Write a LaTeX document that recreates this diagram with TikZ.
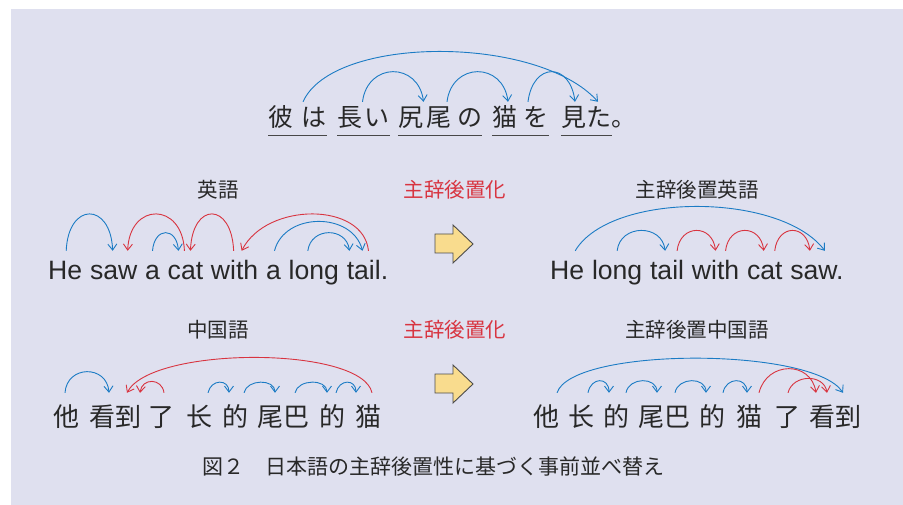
\documentclass[tikz,border=0pt]{standalone}
\usepackage{fontspec}
\setmainfont{Liberation Sans}
\newfontfamily\jp{Noto Sans CJK JP}
\usetikzlibrary{arrows.meta,calc}
\definecolor{panel}{RGB}{223,224,239}
\definecolor{ink}{RGB}{40,40,40}
\definecolor{arcblue}{RGB}{27,123,196}
\definecolor{arcred}{RGB}{216,52,64}
\definecolor{arrowfill}{RGB}{249,220,142}
\begin{document}
\begin{tikzpicture}[x=1pt,y=-1pt,
  jtop/.style={inner sep=0pt, anchor=base, text height=24.5pt, text depth=8.5pt, font=\jp\fontsize{25}{25}\selectfont, text=ink},
  enw/.style={inner sep=0pt, anchor=base west, text height=29pt, text depth=7pt, font=\fontsize{26.6}{26.6}\selectfont, text=ink},
  zhw/.style={inner sep=0pt, anchor=base, text height=33pt, text depth=3pt, font=\jp\fontsize{26}{26}\selectfont, text=ink},
  lbl/.style={inner sep=0pt, anchor=base, font=\jp\fontsize{20.5}{20.5}\selectfont, text=ink},
  redlbl/.style={lbl, text=arcred},
  ba/.style={draw=arcblue, line width=0.9pt, -{Straight Barb[length=6pt,width=9pt]}},
  ra/.style={ba, draw=arcred},
  uline/.style={draw=ink!85, line width=1.3pt},
  shiftarrow/.style={fill=arrowfill, draw=black!70, line width=0.9pt, line join=miter}
]
\useasboundingbox (0,0) rectangle (903,505);
\fill[white] (0,0) rectangle (903,505);
\fill[panel] (11,9) rectangle (903,505);

% ---------- top Japanese sentence ----------
\node[jtop] (j1) at (281,126.5) {彼};
\node[jtop] (j2) at (314,126.5) {は};
\node[jtop] (j3) at (350,126.5) {長};
\node[jtop] (j4) at (377,126.5) {い};
\node[jtop] (j5) at (410.5,126.5) {尻};
\node[jtop] (j6) at (438.5,126.5) {尾};
\node[jtop] (j7) at (469.5,126.5) {の};
\node[jtop] (j8) at (505,126.5) {猫};
\node[jtop] (j9) at (536,126.5) {を};
\node[jtop] (j10) at (573.5,126.5) {見};
\node[jtop] (j11) at (599,126.5) {た};
\node[jtop, anchor=base west] (j12) at (j11.base east) {。};

\draw[uline] (j1.south west) -- (j2.south east);
\draw[uline] (j3.south west) -- (j4.south east);
\draw[uline] (j5.south west) -- (j7.south east);
\draw[uline] (j8.south west) -- (j9.south east);
\draw[uline] (j10.south west) -- (j11.south east);

\draw[ba] ([xshift=-11pt]j2.north) .. controls +(30,-67) and +(-60,-67) .. ([xshift=-1pt]j11.north);
\draw[ba] ([xshift=12.5pt]j3.north) .. controls +(5,-40) and +(-5,-40) .. ([xshift=-15pt]j6.north);
\draw[ba] ([xshift=8.5pt]j6.north) .. controls +(5,-40) and +(-5,-40) .. ([xshift=3pt]j8.north);
\draw[ba] ([xshift=-8pt]j9.north) .. controls +(5,-40) and +(-5,-40) .. ([xshift=1.5pt]j10.north);

% ---------- labels ----------
\node[lbl] (l1) at (218,197.5) {英語};
\node[redlbl] (l2) at (455,197.5) {主辞後置化};
\node[lbl] (l3) at (697,197.5) {主辞後置英語};
\node[lbl] (l4) at (218,337.5) {中国語};
\node[redlbl] (l5) at (455,337.5) {主辞後置化};
\node[lbl] (l6) at (697,337.5) {主辞後置中国語};

% ---------- shift arrows ----------
\draw[shiftarrow] (435,234) -- (453,234) -- (453,225) -- (473,244) -- (453,263) -- (453,253) -- (435,253) -- cycle;
\draw[shiftarrow] (435,374) -- (453,374) -- (453,365) -- (473,384) -- (453,403) -- (453,393) -- (435,393) -- cycle;

% ---------- English ----------
\node[enw] (e1) at (48,280) {He};
\node[enw] (e2) at ([xshift=7.4pt]e1.base east) {saw};
\node[enw] (e3) at ([xshift=7.4pt]e2.base east) {a};
\node[enw] (e4) at ([xshift=7.4pt]e3.base east) {cat};
\node[enw] (e5) at ([xshift=7.4pt]e4.base east) {with};
\node[enw] (e6) at ([xshift=7.4pt]e5.base east) {a};
\node[enw] (e7) at ([xshift=7.4pt]e6.base east) {long};
\node[enw] (e8) at ([xshift=7.4pt]e7.base east) {tail.};

\draw[ba] ([xshift=1pt]e1.north) .. controls +(2,-49) and +(-2,-49) .. ([xshift=-1pt]e2.north);
\draw[ra] ([xshift=-1pt]e4.north) .. controls +(-2,-49) and +(2,-49) .. ([xshift=14pt]e2.north);
\draw[ba] (e3.north) .. controls +(2,-24) and +(-2,-24) .. ([xshift=-7pt]e4.north);
\draw[ra] ([xshift=-1pt]e5.north) .. controls +(-2,-49) and +(2,-49) .. ([xshift=5pt]e4.north);
\draw[ra] ([xshift=1pt]e8.north) .. controls +(-5,-49) and +(25,-49) .. ([xshift=7pt]e5.north);
\draw[ba] ([xshift=1pt]e6.north) .. controls +(10,-39) and +(-10,-39) .. ([xshift=-5pt]e8.north);
\draw[ba] ([xshift=-6pt]e7.north) .. controls +(3,-24) and +(-3,-24) .. ([xshift=-18pt]e8.north);

\node[enw] (f1) at (550,280) {He};
\node[enw] (f2) at ([xshift=7.4pt]f1.base east) {long};
\node[enw] (f3) at ([xshift=7.4pt]f2.base east) {tail};
\node[enw] (f4) at ([xshift=7.4pt]f3.base east) {with};
\node[enw] (f5) at ([xshift=7.4pt]f4.base east) {cat};
\node[enw] (f6) at ([xshift=7.4pt]f5.base east) {saw.};

\draw[ba] ([xshift=8pt]f1.north) .. controls +(35,-59) and +(-45,-59) .. ([xshift=8pt]f6.north);
\draw[ba] (f2.north) .. controls +(3,-27) and +(-3,-27) .. ([xshift=-2pt]f3.north);
\draw[ra] ([xshift=10pt]f3.north) .. controls +(3,-27) and +(-3,-27) .. ([xshift=0pt]f4.north);
\draw[ra] ([xshift=10pt]f4.north) .. controls +(3,-27) and +(-3,-27) .. ([xshift=-1pt]f5.north);
\draw[ra] ([xshift=10pt]f5.north) .. controls +(3,-27) and +(-3,-27) .. ([xshift=-7pt]f6.north);

% ---------- Chinese ----------
\node[zhw] (z1) at (66.5,426) {他};
\node[zhw] (z2) at (115,426) {看到};
\node[zhw] (z3) at (161,426) {了};
\node[zhw] (z4) at (199.5,426) {长};
\node[zhw] (z5) at (235,426) {的};
\node[zhw] (z6) at (283,426) {尾巴};
\node[zhw] (z7) at (332.5,426) {的};
\node[zhw] (z8) at (368.5,426) {猫};

\draw[ba] ([xshift=-1.5pt]z1.north) .. controls +(2,-28) and +(-2,-28) .. ([xshift=-6pt]z2.north);
\draw[ra] ([xshift=3.5pt]z8.north) .. controls +(-10,-47) and +(25,-47) .. ([xshift=12pt]z2.north);
\draw[ra] ([xshift=3pt]z3.north) .. controls +(-2,-15) and +(2,-15) .. ([xshift=25pt]z2.north);
\draw[ba] ([xshift=8.5pt]z4.north) .. controls +(3,-14) and +(0,-14) .. ([xshift=-6pt]z5.north);
\draw[ba] ([xshift=9pt]z5.north) .. controls +(3,-14) and +(0,-14) .. ([xshift=-8pt]z6.north);
\draw[ba] ([xshift=12pt]z6.north) .. controls +(3,-14) and +(0,-14) .. ([xshift=-5.5pt]z7.north);
\draw[ba] ([xshift=3.5pt]z7.north) .. controls +(3,-14) and +(0,-14) .. ([xshift=-12.5pt]z8.north);

\node[zhw] (y1) at (546,426) {他};
\node[zhw] (y2) at (581,426) {长};
\node[zhw] (y3) at (616,426) {的};
\node[zhw] (y4) at (664,426) {尾巴};
\node[zhw] (y5) at (712.5,426) {的};
\node[zhw] (y6) at (749.5,426) {猫};
\node[zhw] (y7) at (787.5,426) {了};
\node[zhw] (y8) at (835,426) {看到};

\draw[ba] ([xshift=11pt]y1.north) .. controls +(15,-46) and +(-30,-46) .. ([xshift=8pt]y8.north);
\draw[ba] ([xshift=7pt]y2.north) .. controls +(3,-16) and +(0,-16) .. ([xshift=-7pt]y3.north);
\draw[ba] ([xshift=10pt]y3.north) .. controls +(3,-16) and +(0,-16) .. ([xshift=-7pt]y4.north);
\draw[ba] ([xshift=11pt]y4.north) .. controls +(3,-16) and +(0,-16) .. ([xshift=-6.5pt]y5.north);
\draw[ba] ([xshift=10.5pt]y5.north) .. controls +(3,-16) and +(0,-16) .. ([xshift=-2.5pt]y6.north);
\draw[ra] ([xshift=9.5pt]y6.north) .. controls +(8,-32) and +(-5,-32) .. ([xshift=-19pt]y8.north);
\draw[ra] ([xshift=0.5pt]y7.north) .. controls +(5,-19) and +(-3,-19) .. ([xshift=-8pt]y8.north);

% ---------- caption ----------
\node[anchor=base west, inner sep=0pt, font=\jp\fontsize{21}{21}\selectfont, text=ink] (cap) at (202,474.5) {図２　日本語の主辞後置性に基づく事前並べ替え};
\end{tikzpicture}
\end{document}
